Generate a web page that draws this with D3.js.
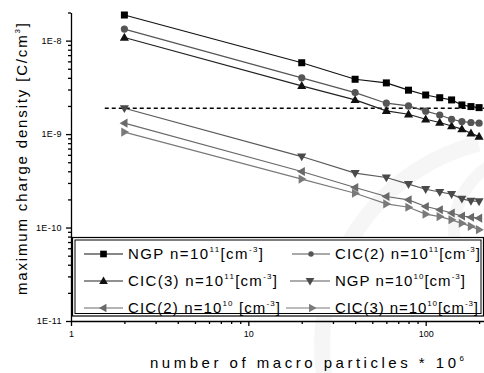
<!DOCTYPE html>
<html>
<head>
<meta charset="utf-8">
<script src="https://cdn.jsdelivr.net/npm/d3@7"></script>
<style>
  html, body { margin: 0; padding: 0; background: #fff; }
  svg { display: block; font-family: "Liberation Sans", Arial, sans-serif; }
</style>
</head>
<body>
<svg id="chart" width="484" height="373"></svg>
<script>
// ---------- data ----------
const particles = [2, 20, 40, 60, 80, 100, 120, 140, 160, 180, 200];
const ngp11  = [1.88e-8, 5.8e-9, 3.86e-9, 3.53e-9, 2.95e-9, 2.62e-9, 2.45e-9, 2.32e-9, 2.05e-9, 1.97e-9, 1.92e-9];
const cic2_11 = [1.33e-8, 4.0e-9, 2.78e-9, 2.14e-9, 2.0e-9, 1.76e-9, 1.6e-9, 1.44e-9, 1.36e-9, 1.33e-9, 1.31e-9];
const cic3_11 = [1.08e-8, 3.28e-9, 2.32e-9, 1.77e-9, 1.63e-9, 1.44e-9, 1.33e-9, 1.22e-9, 1.13e-9, 1.02e-9, 0.94e-9];
const ngp10  = [1.89e-9, 5.75e-10, 3.82e-10, 3.43e-10, 2.91e-10, 2.57e-10, 2.4e-10, 2.28e-10, 2.03e-10, 1.93e-10, 1.9e-10];
const cic2_10 = [1.31e-9, 3.98e-10, 2.68e-10, 2.15e-10, 1.98e-10, 1.68e-10, 1.55e-10, 1.43e-10, 1.33e-10, 1.29e-10, 1.26e-10];
const cic3_10 = [1.05e-9, 3.3e-10, 2.33e-10, 1.79e-10, 1.65e-10, 1.39e-10, 1.31e-10, 1.21e-10, 1.11e-10, 1.03e-10, 0.95e-10];
const thresholdValue = 1.89e-9;
const thresholdStart = 1.55;
const yTickLabels = ["1E-11", "1E-10", "1E-9", "1E-8"];
const xTickLabels = ["1", "10", "100"];

const seriesDefs = [
  { name: "NGP",    dens: "11", values: ngp11,   shape: "square",   color: "#000", line: "#111" },
  { name: "CIC(2)", dens: "11", values: cic2_11, shape: "circle",   color: "#555", line: "#555" },
  { name: "CIC(3)", dens: "11", values: cic3_11, shape: "triUp",    color: "#111", line: "#222" },
  { name: "NGP",    dens: "10", values: ngp10,   shape: "triDown",  color: "#4a4a4a", line: "#5a5a5a" },
  { name: "CIC(2)", dens: "10", values: cic2_10, shape: "triLeft",  color: "#6a6a6a", line: "#6a6a6a" },
  { name: "CIC(3)", dens: "10", values: cic3_10, shape: "triRight", color: "#7a7a7a", line: "#7a7a7a" }
];

// ---------- layout ----------
const svg = d3.select("#chart");
const x = d3.scaleLog().domain([1, 216]).range([71, 485]);
const y = d3.scaleLog().domain([1e-11, 2e-8]).range([321, 12.5]);

// faint watermark arcs
svg.append("path")
  .attr("d", d3.arc()({innerRadius: 200, outerRadius: 216, startAngle: -Math.PI + 0.3, endAngle: -0.25}))
  .attr("transform", "translate(530,345)")
  .attr("fill", "#f6f6f6");
svg.append("path")
  .attr("d", d3.arc()({innerRadius: 70, outerRadius: 82, startAngle: -Math.PI + 0.4, endAngle: -0.3}))
  .attr("transform", "translate(530,230)")
  .attr("fill", "#f6f6f6");

// ---------- axes ----------
const yMajor = [1e-11, 1e-10, 1e-9, 1e-8];
const yMinor = [];
for (let e = -11; e <= -8; e++) for (let m = 2; m <= 9; m++) { const v = m * Math.pow(10, e); if (v <= 2.0001e-8) yMinor.push(v); }
const xMajor = [1, 10, 100];
const xMinor = [];
for (let e = 0; e <= 2; e++) for (let m = 2; m <= 9; m++) { const v = m * Math.pow(10, e); if (v <= 216) xMinor.push(v); }

const gy = svg.append("g").attr("transform", "translate(71,0)");
gy.call(d3.axisLeft(y).tickValues(yMajor).tickSize(5).tickSizeOuter(0).tickFormat((d, i) => yTickLabels[i]));
gy.append("g").call(d3.axisLeft(y).tickValues(yMinor).tickSize(3).tickSizeOuter(0).tickFormat(""))
  .select(".domain").remove();
gy.selectAll("text").attr("font-size", 9).attr("letter-spacing", "0.4px").attr("fill", "#000").attr("x", -9);
gy.selectAll("path.domain, line").attr("stroke", "#000").attr("stroke-width", 1.3);

const gx = svg.append("g").attr("transform", "translate(0,321)");
gx.call(d3.axisBottom(x).tickValues(xMajor).tickSize(5).tickSizeOuter(0).tickFormat((d, i) => xTickLabels[i]));
gx.append("g").call(d3.axisBottom(x).tickValues(xMinor).tickSize(3).tickSizeOuter(0).tickFormat(""))
  .select(".domain").remove();
gx.selectAll("text").attr("font-size", 9).attr("fill", "#000").attr("y", 10);
gx.selectAll("path.domain, line").attr("stroke", "#000").attr("stroke-width", 1.3);

// ---------- marker helper ----------
function marker(g, shape, cx, cy, color, s) {
  const k = s || 1;
  if (shape === "square") {
    g.append("rect").attr("x", cx - 3.5*k).attr("y", cy - 3.5*k).attr("width", 7*k).attr("height", 7*k).attr("fill", color);
  } else if (shape === "circle") {
    g.append("circle").attr("cx", cx).attr("cy", cy).attr("r", 3.6*k).attr("fill", color);
  } else {
    const r = 4.8*k;
    let pts;
    if (shape === "triUp") pts = [[0,-r],[r*0.95,r*0.65],[-r*0.95,r*0.65]];
    if (shape === "triDown") pts = [[0,r],[r*0.95,-r*0.65],[-r*0.95,-r*0.65]];
    if (shape === "triLeft") pts = [[-r,0],[r*0.65,-r*0.95],[r*0.65,r*0.95]];
    if (shape === "triRight") pts = [[r,0],[-r*0.65,-r*0.95],[-r*0.65,r*0.95]];
    g.append("polygon").attr("points", pts.map(p => [cx + p[0], cy + p[1]].join(",")).join(" ")).attr("fill", color);
  }
}

// ---------- threshold dashed line ----------
svg.append("line")
  .attr("x1", x(thresholdStart)).attr("x2", x(216))
  .attr("y1", y(thresholdValue)).attr("y2", y(thresholdValue))
  .attr("stroke", "#000").attr("stroke-width", 1.3).attr("stroke-dasharray", "4,3");

// ---------- series ----------
const line = d3.line().x(d => x(d[0])).y(d => y(d[1]));
seriesDefs.slice().reverse().forEach(s => {
  const pts = particles.map((p, i) => [p, s.values[i]]);
  svg.append("path").attr("d", line(pts)).attr("fill", "none").attr("stroke", s.line).attr("stroke-width", 1.2);
  const g = svg.append("g");
  pts.forEach(p => marker(g, s.shape, x(p[0]), y(p[1]), s.color));
});

// ---------- legend ----------
const lg = svg.append("g");
lg.append("rect").attr("x", 72.5).attr("y", 237.5).attr("width", 411).attr("height", 78.5)
  .attr("fill", "#fff").attr("stroke", "#000").attr("stroke-width", 1.2);
lg.append("rect").attr("x", 75).attr("y", 240).attr("width", 406).attr("height", 73.5)
  .attr("fill", "none").attr("stroke", "#000").attr("stroke-width", 1);

const legendPos = [
  { lx1: 84, lx2: 123, tx: 128, ty: 254, w: 135 },
  { lx1: 292, lx2: 330, tx: 335, ty: 254, w: 145 },
  { lx1: 84, lx2: 123, tx: 128, ty: 281, w: 149 },
  { lx1: 290, lx2: 330, tx: 335, ty: 281, w: 130 },
  { lx1: 84, lx2: 123, tx: 128, ty: 308, w: 152 },
  { lx1: 286, lx2: 330, tx: 335, ty: 308, w: 143 }
];
seriesDefs.forEach((s, i) => {
  const p = legendPos[i];
  lg.append("line").attr("x1", p.lx1).attr("x2", p.lx2).attr("y1", p.ty).attr("y2", p.ty)
    .attr("stroke", s.line).attr("stroke-width", 1.2);
  marker(lg, s.shape, (p.lx1 + p.lx2) / 2 + (i === 5 ? 4 : 0), p.ty, s.color, s.shape === "circle" ? 0.75 : 0.95);
  const t = lg.append("text").attr("x", p.tx).attr("y", p.ty + 5).attr("font-size", 15)
    .attr("textLength", p.w).attr("lengthAdjust", "spacing").attr("fill", "#000");
  t.append("tspan").text(s.name + " n=10");
  t.append("tspan").attr("font-size", 8).attr("dy", -7).text(s.dens);
  t.append("tspan").attr("dy", 7).text((i === 4 ? " " : "") + "[cm");
  t.append("tspan").attr("font-size", 8).attr("dy", -7).text("-3");
  t.append("tspan").attr("dy", 7).text("]");
});

// ---------- titles ----------
const xt = svg.append("text").attr("x", 150).attr("y", 368).attr("font-size", 15)
  .attr("fill", "#000").attr("textLength", 314).attr("lengthAdjust", "spacing");
xt.append("tspan").text("number of macro particles * 10");
xt.append("tspan").attr("font-size", 8).attr("dy", -7).text("6");

const yt = svg.append("text").attr("transform", "translate(27,295) rotate(-90)")
  .attr("font-size", 15).attr("fill", "#000").attr("textLength", 272).attr("lengthAdjust", "spacing");
yt.append("tspan").text("maximum charge density [C/cm");
yt.append("tspan").attr("font-size", 8).attr("dy", -7).text("3");
yt.append("tspan").attr("dy", 7).text("]");
</script>
</body>
</html>
